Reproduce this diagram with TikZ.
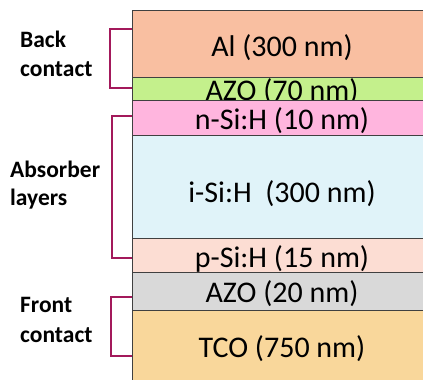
\documentclass[tikz,border=0pt]{standalone}
\usepackage{fontspec}
\setmainfont{Carlito}
\definecolor{cAl}{HTML}{F9BFA1}
\definecolor{cAZOa}{HTML}{C4F08C}
\definecolor{cnSi}{HTML}{FFB5DE}
\definecolor{ciSi}{HTML}{E0F3F9}
\definecolor{cpSi}{HTML}{FCDDD3}
\definecolor{cAZOb}{HTML}{D9D9D9}
\definecolor{cTCO}{HTML}{F9D79B}
\definecolor{cBr}{HTML}{A3195B}
\definecolor{cEdge}{HTML}{404040}
\begin{document}
\begin{tikzpicture}[x=1pt,y=-1pt,
  layer/.style={draw=cEdge,line width=1pt},
  ltext/.style={anchor=base,inner sep=0pt,font=\fontsize{30}{36}\selectfont},
  lab/.style={anchor=base west,inner sep=0pt,font=\fontsize{23.5}{29}\selectfont\bfseries},
  bracket/.style={draw=cBr,line width=2.5pt}]
\useasboundingbox (0,0) rectangle (423,380);
\clip (0,0) rectangle (423,380);
\fill[white] (0,0) rectangle (423,380);
% layers
\path[layer,fill=cAl] (132,10) rectangle (432,77);
\node[ltext] (al) at (282,56) {Al (300 nm)};
\path[layer,fill=cAZOa] (132,77) rectangle (432,100);
\node[ltext] (azoa) at (282,100) {AZO (70 nm)};
\path[layer,fill=cnSi] (132,100) rectangle (432,135);
\node[ltext] (nsi) at (282,129) {n-Si:H (10 nm)};
\path[layer,fill=ciSi] (132,135) rectangle (432,238);
\node[ltext] (isi) at (282,202) {i-Si:H\ \ (300 nm)};
\path[layer,fill=cpSi] (132,238) rectangle (432,272);
\node[ltext] (psi) at (282,267) {p-Si:H (15 nm)};
\path[layer,fill=cAZOb] (132,272) rectangle (432,310);
\node[ltext] (azob) at (282,302) {AZO (20 nm)};
\path[layer,fill=cTCO] (132,310) rectangle (432,395);
\node[ltext] (tco) at (282,357) {TCO (750 nm)};
% brackets
\coordinate (b1t) at (132,29); \coordinate (b1b) at (132,88);
\coordinate (b2t) at (132,116); \coordinate (b2b) at (132,258);
\coordinate (b3t) at (132,297); \coordinate (b3b) at (132,356);
\draw[bracket] (b1t) -- ++(-22,0) |- (b1b);
\draw[bracket] (b2t) -- ++(-20,0) |- (b2b);
\draw[bracket] (b3t) -- ++(-21,0) |- (b3b);
% labels
\node[lab] (back1) at (20,47) {Back};
\node[lab] (back2) at (20,76) {contact};
\node[lab] (abs1) at (10,177) {Absorber};
\node[lab] (abs2) at (10,205) {layers};
\node[lab] (fr1) at (20,312) {Front};
\node[lab] (fr2) at (20,342) {contact};
\end{tikzpicture}
\end{document}
